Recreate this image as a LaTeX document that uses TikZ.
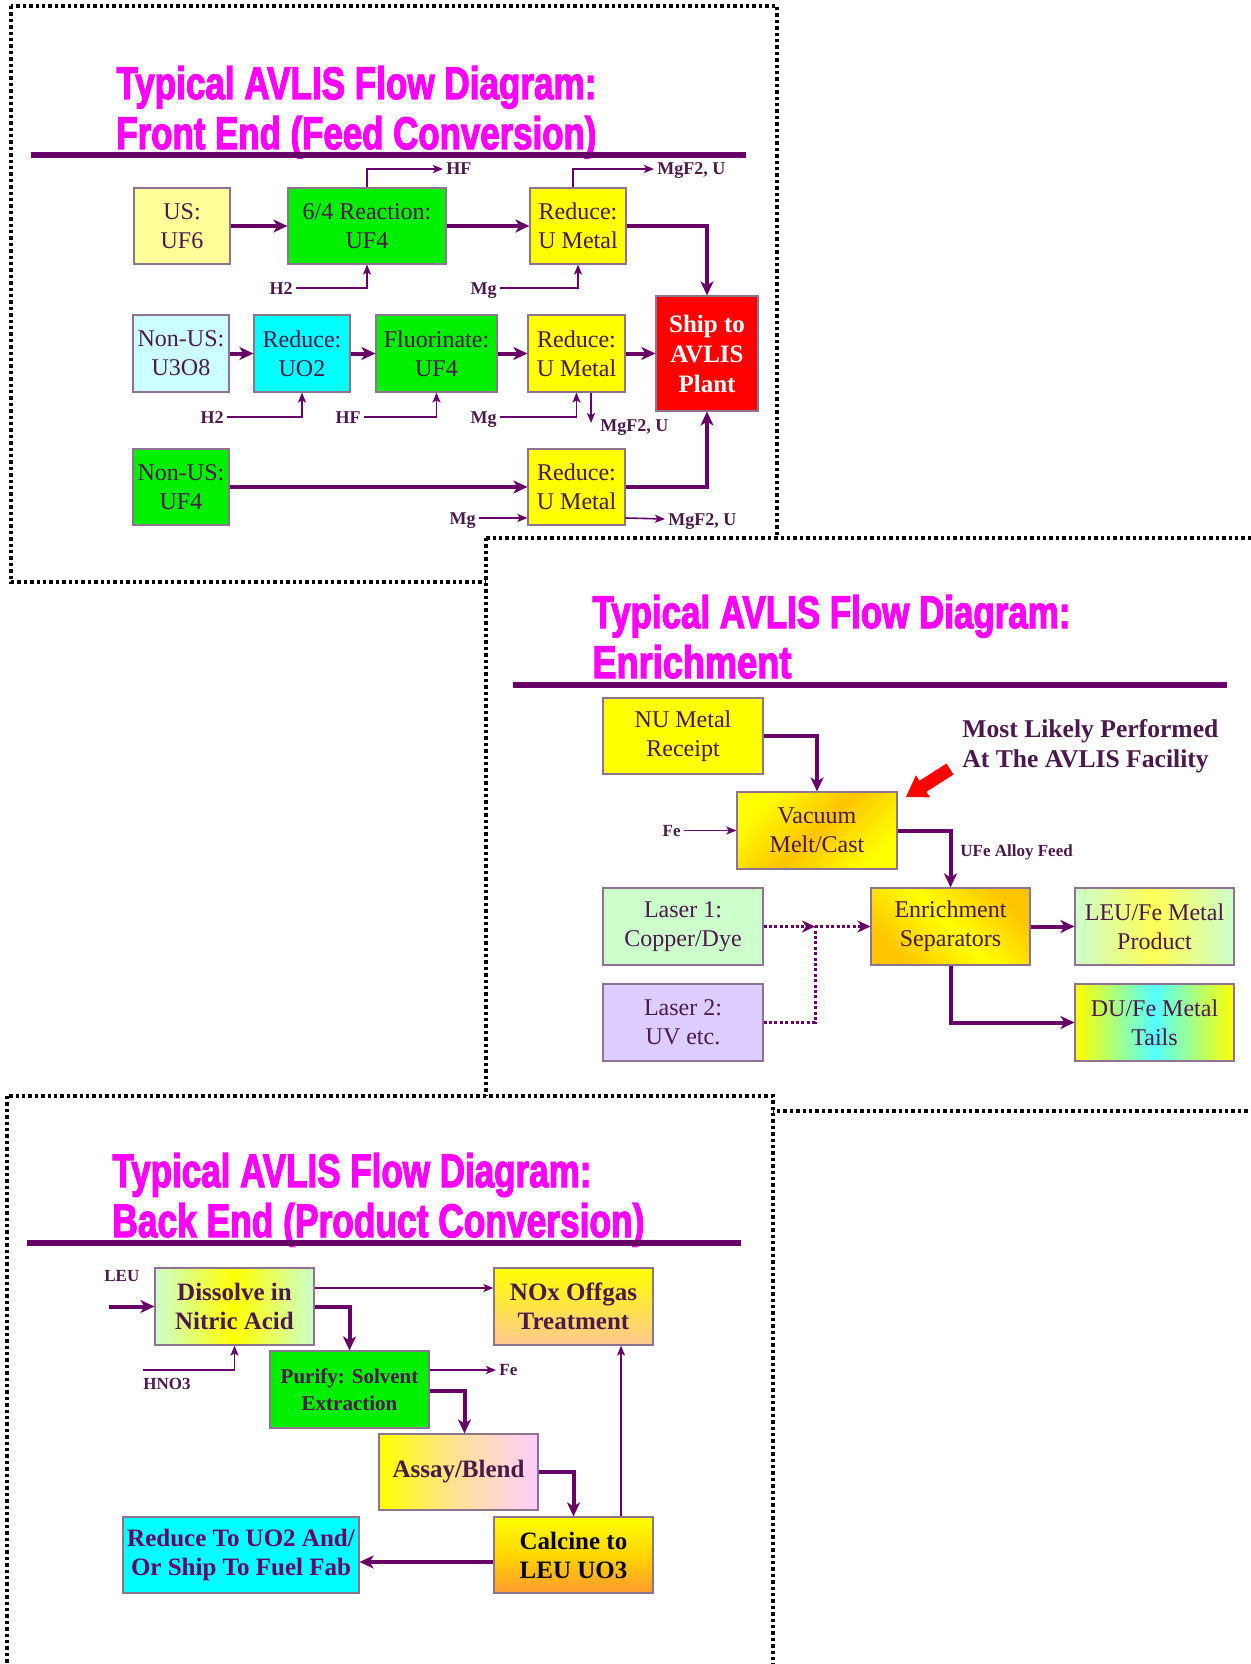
\documentclass[tikz,border=0pt]{standalone}
\usepackage{graphicx}
\usepackage{fontspec}
\setmainfont{Liberation Serif}
\newfontfamily\ttlfont[FakeBold=3,BoldFeatures={FakeBold=3}]{Liberation Sans}
\usetikzlibrary{arrows.meta}
\definecolor{ln}{HTML}{660066}
\definecolor{tx}{HTML}{4A1A4A}
\definecolor{mag}{HTML}{FF00FF}
\definecolor{bord}{HTML}{8E748E}
\definecolor{paley}{HTML}{FFFF99}
\definecolor{grn}{HTML}{00F000}
\definecolor{ylw}{HTML}{FFFF00}
\definecolor{cyn}{HTML}{00FFFF}
\definecolor{palec}{HTML}{CCFFFF}
\definecolor{redb}{HTML}{FF0000}
\definecolor{paleg}{HTML}{CCFFCC}
\definecolor{lav}{HTML}{DDCCFF}
\definecolor{gold}{HTML}{FFC400}
\definecolor{peach}{HTML}{FFC890}
\definecolor{orng}{HTML}{FF9A30}
\definecolor{pnk}{HTML}{FFCCFF}
\definecolor{lcyn}{HTML}{55FFFF}
\definecolor{lylw}{HTML}{FFFF55}
\newcommand\mkbox[7]{\node[blk,#6,minimum width={(#4-#2)*0.5pt},minimum height={(#5-#3)*0.5pt}] (#1) at ({(#2+#4)/2},{(#3+#5)/2}) {#7};}
\begin{document}
\begin{tikzpicture}[x=0.5pt,y=-0.5pt,
  panel/.style={fill=white,draw=black,line width=1.7pt,dash pattern=on 1.7pt off 1.5pt},
  ttl/.style={anchor=base west,inner sep=0,text=mag,font=\ttlfont\bfseries},
  rul/.style={draw=ln,line width=3pt},
  blk/.style={draw=bord,line width=0.6pt,inner sep=0,align=center,text=tx,font={\fontsize{12pt}{14.5pt}\selectfont}},
  bblk/.style={font={\bfseries\fontsize{12.5pt}{14.5pt}\selectfont}},
  thk/.style={draw=ln,line width=2pt,-{Stealth[length=7pt,width=6.5pt,inset=2pt]}},
  thn/.style={draw=ln,line width=0.8pt,-{Stealth[length=5pt,width=4pt,inset=1.2pt]}},
  dtd/.style={draw=ln,line width=1.5pt,dash pattern=on 1.5pt off 1.2pt},
  dtda/.style={dtd,-{Stealth[length=6.5pt,width=6pt,inset=2pt]}},
  lbl/.style={text=tx,inner sep=1.5pt,text height=6pt,text depth=0pt,font={\bfseries\fontsize{9pt}{10pt}\selectfont}},
  slbl/.style={lbl,text height=5.6pt,font={\bfseries\fontsize{8.5pt}{10pt}\selectfont}}]
\useasboundingbox (0,0) rectangle (1251,1664);
\clip (0,0) rectangle (1251,1664);
\fill[white] (0,0) rectangle (1251,1664);
% ================= Panel 1 =================
\draw[panel] (11,6) rectangle (777,582);
\node[ttl] (t1a) at (116,99) {\resizebox{240pt}{16.5pt}{Typical AVLIS Flow Diagram:}};
\node[ttl] (t1b) at (116,149) {\resizebox{240pt}{16.5pt}{Front End (Feed Conversion)}};
\draw[rul] (31,155.5) -- (746,155.5);
\mkbox{us}{134}{188}{230}{264}{fill=paley}{US:\\UF6}
\mkbox{rx}{288}{188}{446}{264}{fill=grn}{6/4 Reaction:\\UF4}
\mkbox{ra}{530}{188}{626}{264}{fill=ylw}{Reduce:\\U Metal}
\mkbox{ship}{656}{296}{758}{411}{fill=redb,text=white,font={\bfseries\fontsize{12.5pt}{15pt}\selectfont}}{Ship to\\AVLIS\\Plant}
\mkbox{nus}{133}{315}{229}{392}{fill=palec}{Non-US:\\U3O8}
\mkbox{uo}{254}{315}{350}{392}{fill=cyn}{Reduce:\\UO2}
\mkbox{fl}{376}{315}{497}{392}{fill=grn}{Fluorinate:\\UF4}
\mkbox{rb}{528}{315}{625}{392}{fill=ylw}{Reduce:\\U Metal}
\mkbox{nf}{133}{449}{229}{525}{fill=grn}{Non-US:\\UF4}
\mkbox{rc}{528}{449}{625}{525}{fill=ylw}{Reduce:\\U Metal}
% arrows row 1
\draw[thk] (us) -- (rx);
\draw[thk] (rx) -- (ra);
\draw[thk] (ra.east) -| (ship.north);
\node[lbl,anchor=west] (hf1) at (443,169) {HF};
\draw[thn] (rx.north) |- (hf1.west);
\node[lbl,anchor=west] (mf1) at (654,169) {MgF2, U};
\draw[thn] ([xshift=-2.5pt]ra.north) |- (mf1.west);
\node[lbl,anchor=east] (h2a) at (296,288) {H2};
\draw[thn] (h2a.east) -| (rx.south);
\node[lbl,anchor=east] (mga) at (500,288) {Mg};
\draw[thn] (mga.east) -| (ra.south);
% arrows row 2
\draw[thk] (nus) -- (uo);
\draw[thk] (uo) -- (fl);
\draw[thk] (fl) -- (rb);
\draw[thk] (rb) -- (ship);
\node[lbl,anchor=east] (h2b) at (227,417) {H2};
\draw[thn] (h2b.east) -| (uo.south);
\node[lbl,anchor=east] (hf2) at (364,417) {HF};
\draw[thn] (hf2.east) -| (fl.south);
\node[lbl,anchor=east] (mgb) at (500,417) {Mg};
\draw[thn] (mgb.east) -| (rb.south);
\coordinate (m2) at (591,423);
\draw[thn] (m2 |- rb.south) -- (m2);
\node[lbl,anchor=west] (mf2) at (597,425) {MgF2, U};
% arrows row 3
\draw[thk] (nf) -- (rc);
\draw[thk] (rc.east) -| (ship.south);
\node[lbl,anchor=east] (mgc) at (479,518) {Mg};
\draw[thn] (mgc.east) -- (mgc.east -| rc.west);
\node[lbl,anchor=west] (mf3) at (665,519) {MgF2, U};
\draw[thn] (mgc.east -| rc.east) -- (mf3.west);
% ================= Panel 2 =================
\draw[panel] (486,538) rectangle (1262,1111);
\node[ttl] (t2a) at (592,628) {\resizebox{239pt}{16.5pt}{Typical AVLIS Flow Diagram:}};
\node[ttl] (t2b) at (592,678) {\resizebox{99.5pt}{16.5pt}{Enrichment}};
\draw[rul] (513,684.5) -- (1227,684.5);
\mkbox{nur}{603}{698}{763}{774}{fill=ylw}{NU Metal\\Receipt}
\mkbox{vac}{737}{792}{897}{869}{top color=ylw,bottom color=ylw,middle color=gold,shading angle=45}{Vacuum\\Melt/Cast}
\mkbox{enr}{871}{888}{1030}{965}{top color=gold,bottom color=gold,middle color=ylw,shading angle=-45}{Enrichment\\Separators}
\mkbox{leu}{1075}{888}{1234}{965}{left color=paleg,right color=paleg,middle color=lylw}{LEU/Fe Metal\\Product}
\mkbox{du}{1075}{984}{1234}{1061}{left color=ylw,right color=ylw,middle color=lcyn}{DU/Fe Metal\\Tails}
\mkbox{lz1}{603}{888}{763}{965}{fill=paleg}{Laser 1:\\Copper/Dye}
\mkbox{lz2}{603}{984}{763}{1061}{fill=lav}{Laser 2:\\UV etc.}
\draw[thk] (nur.east) -| (vac.north);
\node[slbl,anchor=east] (fe2) at (684,830.5) {Fe};
\draw[thn] (fe2) -- (vac);
\draw[thk] (vac.east) -| (enr.north);
\node[slbl,anchor=west] (ufe) at (957,851) {UFe Alloy Feed};
\draw[thk] (enr) -- (leu);
\draw[thk] (enr.south) |- (du.west);
\coordinate (jn) at (815,926.5);
\draw[dtda] (lz1.east) -- (jn);
\draw[dtda] (jn) -- (enr.west);
\draw[dtd] (lz2.east) -| (jn);
\fill[redb] (946.5,763.5) -- (919.4,780.8) -- (915.9,775.3) -- (906,797) -- (929.9,797.3) -- (926.4,791.8) -- (953.5,774.5) -- cycle;
\node[text=tx,anchor=west,align=left,inner sep=0,font={\bfseries\fontsize{12.8pt}{15pt}\selectfont}] (note) at (962,746) {Most Likely Performed\\At The AVLIS Facility};
% ================= Panel 3 =================
\draw[panel] (7,1096) rectangle (773,1680);
\node[ttl] (t3a) at (112,1187) {\resizebox{239.5pt}{17pt}{Typical AVLIS Flow Diagram:}};
\node[ttl] (t3b) at (112,1237) {\resizebox{266pt}{17pt}{Back End (Product Conversion)}};
\draw[rul] (27,1242.5) -- (741,1242.5);
\mkbox{dis}{155}{1268}{314}{1345}{bblk,left color=paleg,right color=paleg,middle color=ylw}{Dissolve in\\Nitric Acid}
\mkbox{nox}{494}{1268}{653}{1345}{bblk,top color=ylw,bottom color=peach}{NOx Offgas\\Treatment}
\mkbox{pur}{270}{1351}{429}{1428}{fill=grn,font={\bfseries\fontsize{10.5pt}{13.5pt}\selectfont}}{Purify: Solvent\\Extraction}
\mkbox{asy}{379}{1434}{538}{1510}{bblk,left color=ylw,right color=pnk,middle color=pnk!60!ylw}{Assay/Blend}
\mkbox{cal}{494}{1517}{653}{1593}{bblk,text=black!85!tx,top color=ylw,bottom color=orng,middle color=gold!70!ylw}{Calcine to\\LEU UO3}
\mkbox{rdu}{123}{1517}{359}{1593}{bblk,fill=cyn,text=ln}{Reduce To UO2 And/\\Or Ship To Fuel Fab}
\node[slbl,anchor=west] (leul) at (101,1276) {LEU};
\coordinate (leuin) at (109,1306.5);
\draw[thk] (leuin) -- (dis.west);
\node[slbl,anchor=west] (hnol) at (140,1384) {HNO3};
\coordinate (hn) at (143,1370);
\draw[thn] (hn) -| (dis.south);
\coordinate (dn) at (0,1288);
\draw[thn] (dis.east |- dn) -- (nox.west |- dn);
\draw[thk] (dis.east) -| (pur.north);
\node[slbl,anchor=west] (fe3) at (496,1370) {Fe};
\draw[thn] (pur.east |- fe3) -- (fe3.west);
\draw[thk] ([yshift=-0.5pt]pur.east) -| ([xshift=3pt]asy.north);
\draw[thk] (asy.east) -| (cal.north);
\coordinate (cx) at (621,0);
\draw[thn] (cal.north -| cx) -- (nox.south -| cx);
\draw[thk] ([yshift=-3.5pt]cal.west) -- ([yshift=-3.5pt]rdu.east);
\end{tikzpicture}
\end{document}
